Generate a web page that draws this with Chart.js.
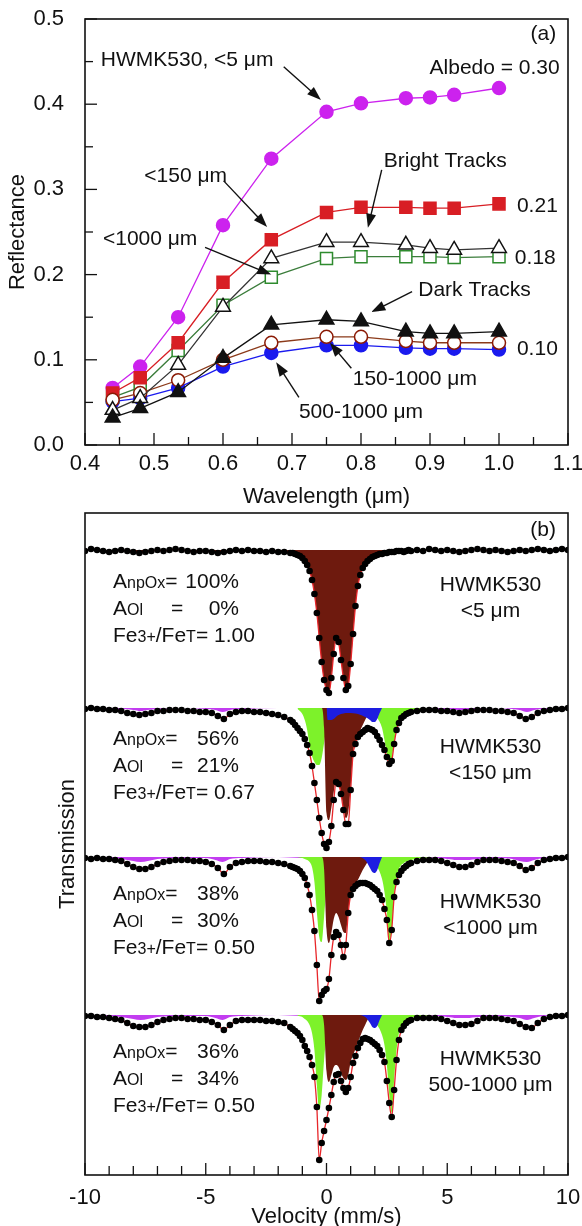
<!DOCTYPE html>
<html>
<head>
<meta charset="utf-8">
<script src="https://cdn.jsdelivr.net/npm/chart.js@4.4.1/dist/chart.umd.min.js"></script>
<style>
  html, body { margin:0; padding:0; background:#fff; overflow:hidden; }
  #wrap { position:relative; width:582px; height:1226px; }
  canvas { position:absolute; left:0; }
  #reflect { top:0; }
  #moss { top:470px; }
</style>
</head>
<body>
<div id="wrap">
  <canvas id="reflect" width="582" height="515"></canvas>
  <canvas id="moss" width="582" height="770"></canvas>
</div>
<script>
// ---- (a) reflectance spectra ----
const wavelength = [0.44, 0.48, 0.535, 0.60, 0.67, 0.75, 0.80, 0.865, 0.90, 0.935, 1.00];
const reflFine5      = [0.067, 0.092, 0.150, 0.258, 0.336, 0.391, 0.401, 0.407, 0.408, 0.411, 0.419];
const reflFine150    = [0.061, 0.079, 0.120, 0.191, 0.241, 0.273, 0.279, 0.279, 0.278, 0.278, 0.283];
const reflBright     = [0.041, 0.055, 0.094, 0.162, 0.219, 0.238, 0.238, 0.235, 0.231, 0.229, 0.231];
const reflCoarse1000 = [0.056, 0.068, 0.111, 0.164, 0.197, 0.219, 0.221, 0.221, 0.221, 0.220, 0.221];
const reflDark       = [0.032, 0.043, 0.062, 0.102, 0.141, 0.147, 0.145, 0.133, 0.131, 0.131, 0.133];
const refl150to1000  = [0.053, 0.061, 0.076, 0.100, 0.120, 0.127, 0.127, 0.122, 0.120, 0.120, 0.120];
const refl500to1000  = [0.051, 0.055, 0.067, 0.092, 0.108, 0.117, 0.117, 0.114, 0.113, 0.113, 0.112];

// ---- (b) Mossbauer spectra, absorption depth below each baseline ----
const velocity = [
  -10, -9.75, -9.5, -9.25, -9, -8.75, -8.5, -8.25, -8, -7.75, -7.5, -7.25, -7, -6.75, -6.5, -6.25, -6,
  -5.75, -5.5, -5.25, -5, -4.75, -4.5, -4.25, -4, -3.75, -3.5, -3.25, -3, -2.75, -2.5, -2.25, -2, -1.75,
  -1.5, -1.4, -1.3, -1.2, -1.1, -1.0, -0.9, -0.8, -0.7, -0.6, -0.5, -0.4, -0.3, -0.2, -0.1, 0.0,
  0.1, 0.2, 0.3, 0.4, 0.5, 0.6, 0.7, 0.8, 0.9, 1.0, 1.1, 1.2, 1.3, 1.4, 1.5, 1.6, 1.7, 1.8, 1.9, 2.0,
  2.1, 2.2, 2.3, 2.4, 2.5, 2.6, 2.7, 2.8, 2.9, 3.0, 3.1, 3.2, 3.3, 3.4, 3.5,
  3.75, 4, 4.25, 4.5, 4.75, 5, 5.25, 5.5, 5.75, 6, 6.25, 6.5, 6.75, 7, 7.25, 7.5, 7.75, 8,
  8.25, 8.5, 8.75, 9, 9.25, 9.5, 9.75, 10
];
const absorption1 = [
  1, -1, 0, 1, 2, 1, 0, 1, 2, 3, 2, 1, 0, 1, 0, -1, 0, 1, 2, 1, 1, 2, 3, 2, 1, 0, 1, 0, 1, 1, 2, 1, 2, 2,
  3, 3, 4, 5, 6, 8, 11, 15, 21, 30, 44, 63, 88, 112, 130, 140, 143, 128, 104, 88, 92, 110, 128, 140, 136, 114,
  84, 56, 36, 25, 18, 14, 11, 9, 7, 6, 5, 4, 4, 3, 3, 2, 2, 2, 1, 1, 1, 2, 1, 0, 1,
  0, 1, -1, 0, 1, 0, 1, 2, 1, 0, -1, 0, 1, 0, 1, 2, 1, 0, 1, 0, -1, 0, 1, 0, -1, 0
];
const absorption2 = [
  1, 0, 1, 1, 2, 2, 3, 5, 6, 7, 6, 5, 3, 3, 2, 2, 2, 3, 3, 4, 4, 5, 8, 11, 6, 4, 3, 3, 4, 4, 5, 6, 7, 9,
  12, 14, 17, 20, 23, 26, 31, 37, 45, 58, 75, 92, 110, 125, 136, 140, 134, 118, 92, 74, 76, 86, 102, 116, 116, 82,
  46, 36, 29, 26, 24, 22, 20, 21, 22, 24, 28, 32, 37, 42, 49, 56, 53, 36, 22, 15, 10, 8, 6, 5, 4,
  3, 2, 2, 2, 3, 3, 4, 5, 4, 3, 2, 2, 2, 3, 3, 4, 5, 8, 11, 9, 5, 3, 2, 1, 1, 0
];
const absorption3 = [
  1, 2, 1, 2, 2, 3, 4, 7, 10, 12, 12, 10, 7, 5, 4, 3, 3, 3, 4, 4, 5, 7, 11, 17, 10, 6, 5, 4, 4, 4, 5, 5, 6, 7,
  9, 10, 11, 12, 14, 17, 21, 28, 38, 53, 74, 108, 144, 138, 134, 132, 122, 98, 80, 75, 78, 88, 100, 88, 56, 38,
  32, 29, 27, 26, 26, 26, 27, 28, 30, 32, 34, 38, 43, 52, 63, 86, 73, 40, 25, 18, 14, 11, 9, 7, 6,
  4, 3, 3, 3, 4, 6, 8, 10, 10, 8, 5, 3, 3, 3, 4, 5, 6, 9, 13, 11, 6, 3, 2, 1, 1, 0
];
const absorption4 = [
  1, 1, 2, 2, 3, 4, 5, 8, 11, 12, 12, 10, 7, 5, 4, 3, 3, 4, 4, 5, 5, 7, 10, 15, 10, 6, 5, 5, 5, 5, 6, 6, 7, 8,
  12, 14, 16, 18, 21, 25, 31, 36, 42, 50, 62, 92, 145, 128, 116, 105, 93, 80, 67, 60, 59, 66, 73, 77, 73, 62,
  48, 41, 33, 28, 24, 23, 24, 25, 27, 29, 31, 35, 40, 47, 66, 88, 102, 75, 45, 25, 15, 11, 8, 6, 5,
  3, 3, 3, 3, 4, 6, 8, 10, 10, 9, 6, 3, 3, 3, 4, 5, 6, 9, 12, 13, 8, 4, 2, 1, 1, 0
];

// fitted subspectra (npOx doublet = brown, olivine = green, pyroxene = blue, sextet = magenta)
const brownVelocity = [-0.3, -0.2, -0.1, 0.0, 0.1, 0.2, 0.3, 0.4, 0.5, 0.6, 0.7, 0.8, 0.9, 1.0, 1.1, 1.2, 1.3, 1.4, 1.5, 1.6, 1.7, 1.8, 1.9];
const brown2 = [0, 0, 20, 105, 112, 100, 84, 72, 74, 85, 100, 110, 104, 80, 45, 34, 27, 22, 17, 12, 7, 3, 0];
const brown3 = [0, 0, 12, 72, 86, 76, 62, 56, 60, 68, 75, 76, 55, 37, 31, 27, 23, 18, 13, 9, 5, 2, 0];
const brown4 = [0, 0, 10, 56, 67, 60, 52, 50, 52, 58, 63, 65, 60, 47, 40, 34, 27, 21, 15, 10, 5, 2, 0];

const greenVelocity = [-1.2, -1.0, -0.9, -0.8, -0.7, -0.6, -0.5, -0.4, -0.3, -0.2, -0.1, 0.0, 0.1, 0.2, 0.4, 0.8,
  1.2, 1.6, 1.9, 2.1, 2.3, 2.4, 2.5, 2.6, 2.7, 2.8, 2.9, 3.0, 3.2, 3.5, 4.0, 4.5];
const green2 = [1, 6, 12, 22, 38, 48, 54, 57, 57, 50, 35, 18, 5, 3, 2, 2, 3, 4, 6, 10, 20, 32, 45, 54, 50, 35, 20, 13, 7, 3, 1, 0];
const green3 = [0, 1, 2, 3, 5, 10, 25, 55, 80, 85, 60, 30, 10, 4, 2, 1, 2, 3, 5, 10, 22, 35, 55, 85, 72, 38, 22, 12, 6, 3, 1, 0];
const green4 = [1, 2, 4, 6, 10, 18, 35, 70, 95, 80, 45, 20, 8, 3, 2, 1, 2, 3, 5, 10, 20, 30, 50, 80, 98, 65, 35, 18, 7, 3, 1, 0];

const blueVelocity = [0.0, 0.05, 0.2, 0.5, 0.9, 1.3, 1.6, 1.8, 1.9, 2.0, 2.1, 2.2, 2.3];
const blue2 = [0, 12, 12, 7, 5, 6, 9, 12, 14, 14, 11, 5, 0];
const blue3 = [0, 0, 0, 0, 0, 0, 3, 11, 15, 16, 13, 6, 0];
const blue4 = [0, 0, 0, 0, 0, 0, 2, 8, 12, 13, 11, 5, 0];

const magentaVelocity = [-10, -9, -8.5, -8, -7.7, -7.4, -7, -6, -5, -4.6, -4.3, -4, -3.5, -2, -1, 0,
  1, 2, 3, 4, 4.5, 5, 5.4, 5.8, 6.3, 7, 7.7, 8, 8.3, 8.6, 9, 10];
const magenta2 = [0, 1, 1, 2, 3, 2, 1, 0, 1, 2, 4, 2, 1, 0, 0, 0, 0, 0, 0, 0, 1, 1, 2, 2, 1, 0, 1, 2, 4, 2, 1, 0];
const magenta3 = [0, 1, 2, 4, 5, 4, 2, 1, 1, 3, 5, 2, 1, 0, 1, 0, 0, 1, 0, 1, 1, 2, 3, 3, 2, 1, 2, 4, 5, 3, 1, 0];
const magenta4 = [0, 1, 2, 4, 5, 4, 2, 1, 1, 3, 5, 2, 1, 0, 1, 0, 0, 1, 0, 1, 1, 2, 3, 3, 2, 1, 2, 3, 5, 3, 1, 0];

const spectrumBase = [625, 467, 318, 160];
const sampleSize = ['<5 μm', '<150 μm', '<1000 μm', '500-1000 μm'];
const areaNpOx = ['100%', '56%', '38%', '36%'];
const areaOl = ['0%', '21%', '30%', '34%'];
const ferricRatio = ['1.00', '0.67', '0.50', '0.50'];

const FONT = '"Liberation Sans", Arial, Helvetica, sans-serif';
Chart.defaults.font.family = FONT;
Chart.defaults.font.size = 22;
Chart.defaults.color = '#111';

function onStep(v, m) { return Math.abs(v / m - Math.round(v / m)) < 1e-6; }

function drawRich(ctx, x, y, parts, size) {
  let cx = x;
  for (const p of parts) {
    ctx.font = (p.s ? 16 : size) + 'px ' + FONT;
    if (p.right !== undefined) {
      ctx.textAlign = 'right';
      ctx.fillText(p.t, x + p.right, y);
      ctx.textAlign = 'left';
      continue;
    }
    if (p.at !== undefined) cx = x + p.at;
    ctx.fillText(p.t, cx, y);
    cx += ctx.measureText(p.t).width;
  }
}

function arrow(ctx, x1, y1, x2, y2) {
  const ang = Math.atan2(y2 - y1, x2 - x1);
  const L = 14, W = 5;
  ctx.beginPath();
  ctx.moveTo(x1, y1);
  ctx.lineTo(x2 - Math.cos(ang) * L * 0.8, y2 - Math.sin(ang) * L * 0.8);
  ctx.stroke();
  ctx.beginPath();
  ctx.moveTo(x2, y2);
  ctx.lineTo(x2 - Math.cos(ang) * L - Math.sin(ang) * W, y2 - Math.sin(ang) * L + Math.cos(ang) * W);
  ctx.lineTo(x2 - Math.cos(ang) * L + Math.sin(ang) * W, y2 - Math.sin(ang) * L - Math.cos(ang) * W);
  ctx.closePath();
  ctx.fill();
}

// annotation settings for each canvas (kept out of chart options)
const notes = {
  reflect: {
    ticks: [
      {axis: 'x', min: 0.4, max: 1.1, step: 0.05, major: 0.1, majorLen: 12, minorLen: 8},
      {axis: 'y', min: 0, max: 0.5, step: 0.05, major: 0.1, majorLen: 12, minorLen: 8}
    ],
    texts: [
      {t: 'HWMK530, <5 μm', x: 0.423, y: 0.454},
      {t: '(a)', x: 1.083, y: 0.484, align: 'right'},
      {t: 'Albedo = 0.30', x: 1.088, y: 0.444, align: 'right'},
      {t: '<150 μm', x: 0.486, y: 0.317},
      {t: 'Bright Tracks', x: 0.833, y: 0.335},
      {t: '0.21', x: 1.026, y: 0.282},
      {t: '<1000 μm', x: 0.426, y: 0.244},
      {t: '0.18', x: 1.023, y: 0.221},
      {t: 'Dark Tracks', x: 0.883, y: 0.184},
      {t: '0.10', x: 1.026, y: 0.114},
      {t: '150-1000 μm', x: 0.788, y: 0.079},
      {t: '500-1000 μm', x: 0.710, y: 0.041}
    ],
    arrows: [
      [0.688, 0.444, 0.742, 0.405],
      [0.601, 0.310, 0.664, 0.256],
      [0.830, 0.323, 0.810, 0.255],
      [0.574, 0.232, 0.670, 0.200],
      [0.874, 0.180, 0.815, 0.156],
      [0.786, 0.090, 0.755, 0.120],
      [0.710, 0.056, 0.677, 0.097]
    ]
  },
  moss: {
    ticks: [{axis: 'x', min: -10, max: 10, step: 1, major: 5, majorLen: 12, minorLen: 9}],
    texts: [{t: '(b)', x: 9.5, y: 647, align: 'right'}],
    arrows: []
  }
};

// frame, inner ticks, labels and arrows
const decor = {
  id: 'decor',
  afterDatasetsDraw(chart) {
    const opts = notes[chart.canvas.id];
    const {ctx, chartArea: a, scales} = chart;
    const sx = scales.x, sy = scales.y;
    ctx.save();
    ctx.strokeStyle = '#111';
    ctx.fillStyle = '#111';
    ctx.lineWidth = 1.3;
    opts.ticks.forEach(t => {
      const n = Math.round((t.max - t.min) / t.step);
      for (let i = 0; i <= n; i++) {
        const v = t.min + i * t.step;
        const len = onStep(v, t.major) ? t.majorLen : t.minorLen;
        ctx.beginPath();
        if (t.axis === 'x') {
          const p = sx.getPixelForValue(v);
          ctx.moveTo(p, a.bottom); ctx.lineTo(p, a.bottom - len);
        } else {
          const p = sy.getPixelForValue(v);
          ctx.moveTo(a.left, p); ctx.lineTo(a.left + len, p);
        }
        ctx.stroke();
      }
    });
    ctx.lineWidth = 1.6;
    ctx.strokeRect(a.left, a.top, a.right - a.left, a.bottom - a.top);

    ctx.lineWidth = 1.4;
    opts.arrows.forEach(r => {
      arrow(ctx, sx.getPixelForValue(r[0]), sy.getPixelForValue(r[1]),
                 sx.getPixelForValue(r[2]), sy.getPixelForValue(r[3]));
    });
    ctx.textBaseline = 'alphabetic';
    opts.texts.forEach(t => {
      const x = sx.getPixelForValue(t.x);
      const y = sy.getPixelForValue(t.y) + 7.5;
      if (t.parts) {
        ctx.textAlign = 'left';
        drawRich(ctx, x, y, t.parts, 21);
      } else {
        ctx.font = '21px ' + FONT;
        ctx.textAlign = t.align || 'left';
        ctx.fillText(t.t, x, y);
      }
    });
    ctx.restore();
  }
};

// ---------- chart (a) ----------
function reflSet(vals, style, color, fillColor, radius, lineColor) {
  return {
    data: wavelength.map((w, i) => ({x: w, y: vals[i]})),
    borderColor: lineColor, borderWidth: 1.3,
    pointStyle: style, pointRadius: radius,
    pointBackgroundColor: fillColor, pointBorderColor: color, pointBorderWidth: 1.5
  };
}

new Chart(document.getElementById('reflect'), {
  type: 'line',
  data: {
    datasets: [
      reflSet(reflDark, 'triangle', '#111', '#111', 8.5, '#111'),
      reflSet(reflBright, 'triangle', '#111', '#fff', 8.5, '#333'),
      reflSet(refl150to1000, 'circle', '#8b1a05', '#fff', 6.5, '#8b3a1a'),
      reflSet(reflFine150, 'rect', '#d81e24', '#d81e24', 8.5, '#d81e24'),
      reflSet(reflCoarse1000, 'rect', '#2e8b2e', '#fff', 8.5, '#3b7d3b'),
      reflSet(refl500to1000, 'circle', '#1a1aee', '#1a1aee', 6.5, '#1a1aee'),
      reflSet(reflFine5, 'circle', '#cc22ee', '#cc22ee', 6.5, '#cc22ee')
    ]
  },
  options: {
    responsive: false, animation: false, events: [],
    layout: {padding: {top: 19, right: 14, left: 0, bottom: 0}},
    plugins: {legend: {display: false}, tooltip: {enabled: false}},
    scales: {
      x: {
        type: 'linear', min: 0.4, max: 1.1,
        grid: {display: false, drawTicks: false}, border: {display: false},
        ticks: {stepSize: 0.1, padding: 6, callback: v => v.toFixed(1)},
        title: {display: true, text: 'Wavelength (μm)', padding: {top: 0, bottom: 5}},
        afterFit: s => { s.height = 70; s.paddingLeft = 0; s.paddingRight = 0; }
      },
      y: {
        min: 0, max: 0.5,
        grid: {display: false, drawTicks: false}, border: {display: false},
        ticks: {stepSize: 0.1, padding: 21, callback: v => v.toFixed(1)},
        title: {display: true, text: 'Reflectance', padding: {top: 5, bottom: 0}},
        afterFit: s => { s.width = 85; s.paddingTop = 0; s.paddingBottom = 0; }
      }
    }
  },
  plugins: [decor]
});

// ---------- chart (b) ----------
function pts(xs, ys, base) { return xs.map((x, i) => ({x: x, y: base - ys[i]})); }
function fillSet(xs, ys, base, color, order) {
  return {
    data: pts(xs, ys, base), borderWidth: 0, pointRadius: 0,
    backgroundColor: color, fill: {value: base},
    cubicInterpolationMode: 'monotone', order: order
  };
}

const absorption = [absorption1, absorption2, absorption3, absorption4];
const subspectra = [
  null,
  {brown: brown2, green: green2, blue: blue2, magenta: magenta2},
  {brown: brown3, green: green3, blue: blue3, magenta: magenta3},
  {brown: brown4, green: green4, blue: blue4, magenta: magenta4}
];

const mossSets = [];
const leftTop = [595, 438, 283, 125];
const rightTop = [592, 430, 275, 118];

absorption.forEach((ab, s) => {
  const base = spectrumBase[s];
  mossSets.push({
    data: pts(velocity, ab, base), showLine: false,
    pointRadius: 3.3, pointBackgroundColor: '#000', pointBorderWidth: 0, order: 0
  });
  mossSets.push({
    data: pts(velocity, ab, base), borderColor: '#e8262a', borderWidth: 1.3,
    pointRadius: 0, cubicInterpolationMode: 'monotone', order: 1
  });
  if (s === 0) {
    mossSets.push(fillSet(velocity, ab, base, '#6e1a0e', 3));
  } else {
    const c = subspectra[s];
    mossSets.push(fillSet(blueVelocity, c.blue, base, '#1d1de0', 2));
    mossSets.push(fillSet(brownVelocity, c.brown, base, '#6e1a0e', 3));
    mossSets.push(fillSet(greenVelocity, c.green, base, '#7df22a', 4));
    mossSets.push(fillSet(magentaVelocity, c.magenta, base, '#c23cf0', 5));
  }
  const y0 = leftTop[s];
  const T = notes.moss.texts;
  T.push({x: -8.84, y: y0, parts: [{t: 'A'}, {t: 'npOx', s: 1}, {t: '='}, {t: areaNpOx[s], right: 126}]});
  T.push({x: -8.84, y: y0 - 27, parts: [{t: 'A'}, {t: 'Ol', s: 1}, {t: '=', at: 58}, {t: areaOl[s], right: 126}]});
  T.push({x: -8.84, y: y0 - 54, parts: [{t: 'Fe'}, {t: '3+', s: 1}, {t: '/Fe'}, {t: 'T', s: 1}, {t: '= ' + ferricRatio[s]}]});
  T.push({t: 'HWMK530', x: 6.79, y: rightTop[s], align: 'center'});
  T.push({t: sampleSize[s], x: 6.79, y: rightTop[s] - 26, align: 'center'});
});

new Chart(document.getElementById('moss'), {
  type: 'line',
  data: {datasets: mossSets},
  options: {
    responsive: false, animation: false, events: [],
    layout: {padding: {top: 43, right: 14, left: 0, bottom: 0}},
    plugins: {legend: {display: false}, tooltip: {enabled: false}},
    scales: {
      x: {
        type: 'linear', min: -10, max: 10,
        grid: {display: false, drawTicks: false}, border: {display: false},
        ticks: {stepSize: 5, padding: 10, callback: v => String(v)},
        title: {display: true, text: 'Velocity (mm/s)', padding: {top: 0, bottom: 10}},
        afterFit: s => { s.height = 65; s.paddingLeft = 0; s.paddingRight = 0; }
      },
      y: {
        min: 0, max: 662,
        grid: {display: false, drawTicks: false}, border: {display: false},
        ticks: {display: false},
        title: {display: true, text: 'Transmission', padding: {top: 55, bottom: 0}},
        afterFit: s => { s.width = 85; s.paddingTop = 0; s.paddingBottom = 0; }
      }
    }
  },
  plugins: [decor]
});
</script>
</body>
</html>
